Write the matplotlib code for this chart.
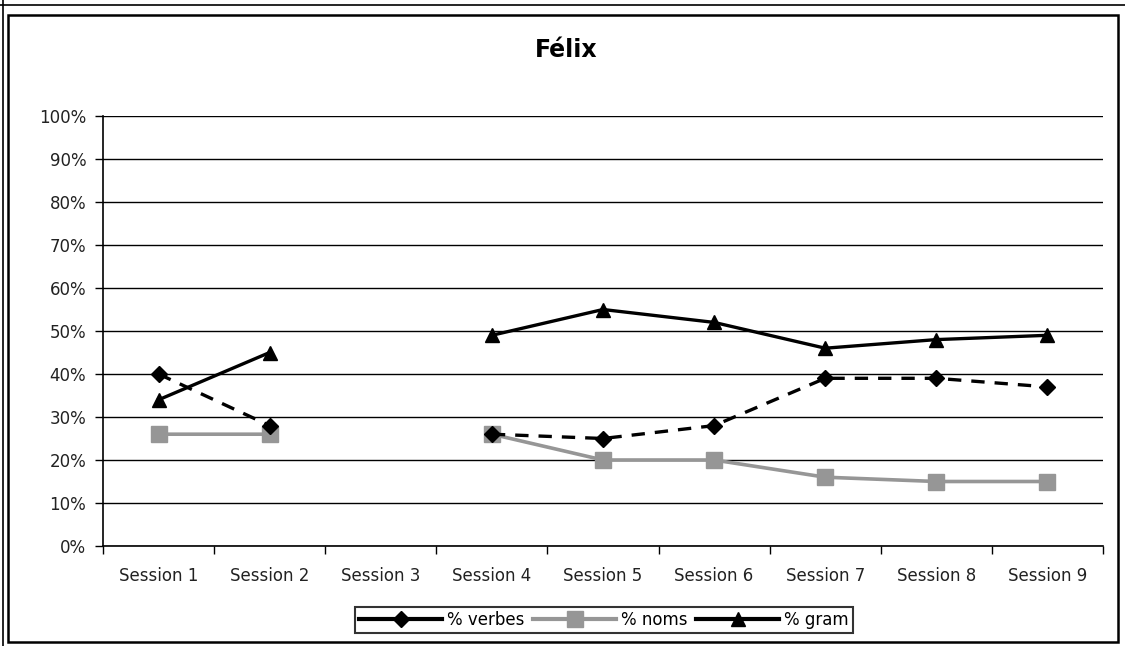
import numpy as np
import matplotlib.pyplot as plt
from matplotlib.patches import Rectangle
from matplotlib.lines import Line2D

plt.rcParams['font.family'] = ['DejaVu Sans']

sessions = ['Session 1', 'Session 2', 'Session 3', 'Session 4', 'Session 5',
            'Session 6', 'Session 7', 'Session 8', 'Session 9']
verbes = [40, 28, np.nan, 26, 25, 28, 39, 39, 37]
noms = [26, 26, np.nan, 26, 20, 20, 16, 15, 15]
gram = [34, 45, np.nan, 49, 55, 52, 46, 48, 49]
yticks = np.arange(0, 101, 10)

fig = plt.figure(figsize=(11.25, 6.46), dpi=100)
ax = fig.add_axes([103/1125, 1-546/646, 1000/1125, 430/646])

x = np.arange(len(sessions))
ax.plot(x, verbes, color='black', lw=2.4, ls=(0, (4, 3)), marker='D', ms=8,
        label='% verbes', zorder=3)
ax.plot(x, noms, color='#969696', lw=2.6, marker='s', ms=11,
        label='% noms', zorder=2)
ax.plot(x, gram, color='black', lw=2.4, marker='^', ms=10,
        label='% gram', zorder=4)

ax.set_xlim(-0.5, len(sessions) - 0.5)
ax.set_ylim(0, 100)
ax.set_yticks(yticks)
ax.set_yticklabels([f'{v}%' for v in yticks], fontsize=12, color='#222222')
ax.yaxis.grid(True, color='black', lw=1)
ax.set_axisbelow(True)

# category boundaries as ticks, labels in the middle
ax.set_xticks(np.arange(-0.5, len(sessions), 1))
ax.set_xticklabels([])
ax.set_xticks(x, minor=True)
ax.set_xticklabels(sessions, minor=True, fontsize=12, color='#222222')
ax.tick_params(axis='x', which='minor', length=0, pad=15)
ax.tick_params(axis='x', which='major', length=6, width=1)
ax.tick_params(axis='y', length=6, width=1, pad=6)

for s in ['top', 'right']:
    ax.spines[s].set_visible(False)
for s in ['left', 'bottom']:
    ax.spines[s].set_linewidth(1.2)

fig.text(566/1125, 1-50/646, 'Félix', fontsize=17, fontweight='bold',
         ha='center', va='center')

handles = [
    Line2D([], [], color='black', lw=3, marker='D', ms=8),
    Line2D([], [], color='#969696', lw=3, marker='s', ms=11),
    Line2D([], [], color='black', lw=3, marker='^', ms=10),
]
leg = fig.legend(handles, ['% verbes', '% noms', '% gram'], loc='center',
                 bbox_to_anchor=(604/1125, 1-620/646), ncol=3, fontsize=12,
                 frameon=True, fancybox=False, edgecolor='black',
                 handlelength=5, handletextpad=0.3, columnspacing=0.5,
                 borderpad=0.25, borderaxespad=0)
leg.get_frame().set_linewidth(1.5)

# outer chart frame and page lines
fig.patches.append(Rectangle((8/1125, 4/646), 1110/1125, 627/646,
                             transform=fig.transFigure, fill=False,
                             edgecolor='black', lw=1.8))
fig.lines.append(Line2D([0, 1], [1-5/646, 1-5/646], transform=fig.transFigure,
                        color='black', lw=1.2))
fig.lines.append(Line2D([3/1125, 3/1125], [0, 1], transform=fig.transFigure,
                        color='black', lw=1.2))

fig.savefig('out.png', dpi=100)
